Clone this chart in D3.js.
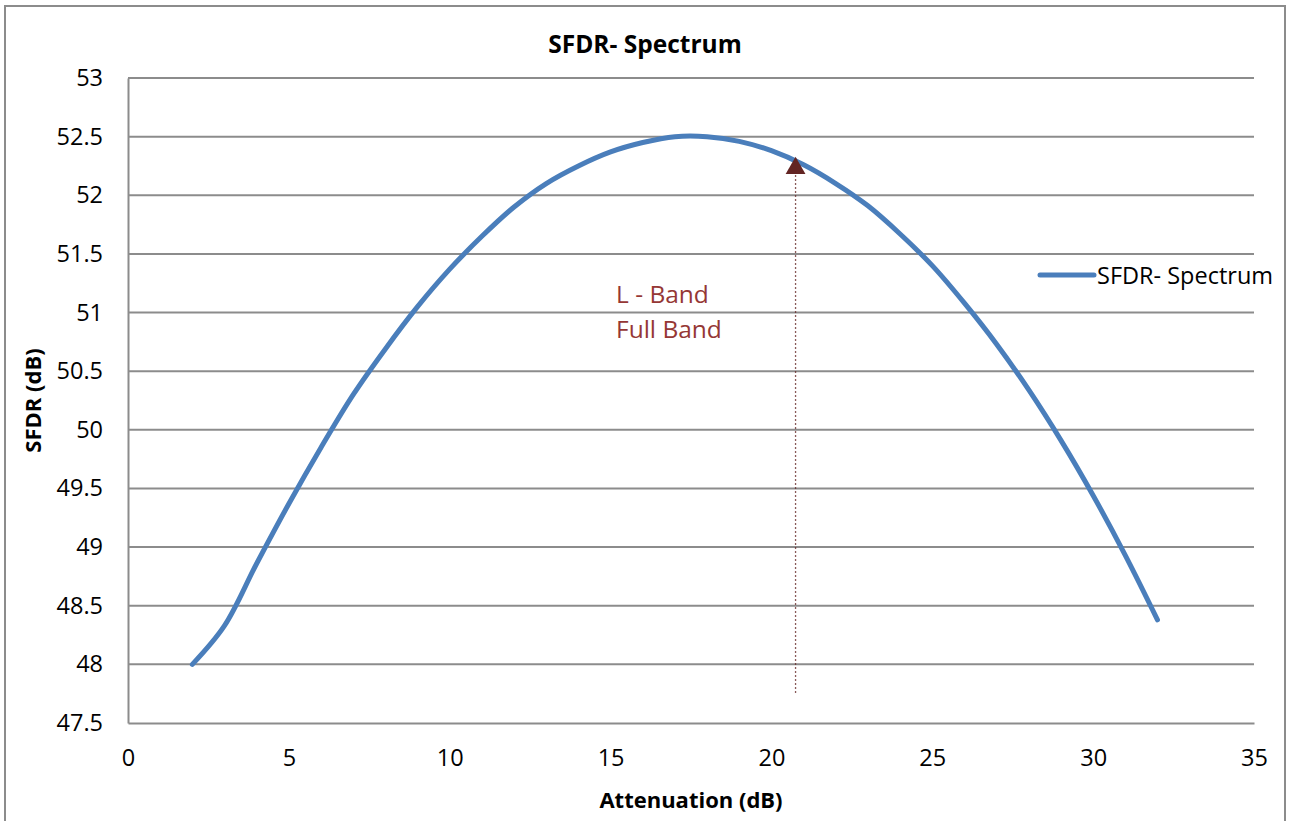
<!DOCTYPE html>
<html><head><meta charset="utf-8">
<script src="https://cdn.jsdelivr.net/npm/d3@7"></script>
<style>
html,body{margin:0;padding:0;background:#fff;}
svg{display:block;font-family:"Open Sans","Lato",sans-serif;}
</style></head>
<body>
<svg id="chart" width="1289" height="821"></svg>
<script>
// Data
const attenuation = [2,3,4,5,6,7,8,9,10,11,12,13,14,15,16,17,18,19,20,21,22,23,24,25,26,27,28,29,30,31,32];
const sfdr = [48.0,48.33,48.86,49.37,49.85,50.3,50.69,51.05,51.37,51.65,51.9,52.1,52.25,52.37,52.45,52.5,52.5,52.46,52.38,52.26,52.1,51.91,51.67,51.4,51.08,50.73,50.34,49.91,49.44,48.93,48.38];
const xTicks = [0,5,10,15,20,25,30,35];
const yTicks = [47.5,48,48.5,49,49.5,50,50.5,51,51.5,52,52.5,53];
const seriesName = "SFDR- Spectrum";
const annotationLines = ["L - Band","Full Band"];
const markerPoint = {x:20.75, y:52.29, yEnd:47.75};

const svg = d3.select("#chart");
const L=128, R=1254, T=78, B=723;
const x = d3.scaleLinear().domain([0,35]).range([L,R]);
const y = d3.scaleLinear().domain([47.5,53]).range([B,T]);

// outer border
svg.append("rect").attr("x",5).attr("y",6).attr("width",1280).attr("height",830)
  .attr("fill","none").attr("stroke","#8c8c8c").attr("stroke-width",2);

// gridlines
svg.append("g").selectAll("line").data(yTicks.filter(d=>d>47.5)).join("line")
  .attr("x1",L).attr("x2",R).attr("y1",d=>y(d)).attr("y2",d=>y(d))
  .attr("stroke","#8c8c8c").attr("stroke-width",2);

// axes
const yAxis = svg.append("g").attr("transform",`translate(${L},0)`)
  .call(d3.axisLeft(y).tickValues(yTicks).tickSize(0).tickPadding(25).tickFormat(d3.format("")));
yAxis.select(".domain").attr("stroke","#8c8c8c").attr("stroke-width",2);
yAxis.selectAll("text").attr("font-size",23.5).attr("fill","#000").attr("font-family","Open Sans");

const xAxis = svg.append("g").attr("transform",`translate(0,${B})`)
  .call(d3.axisBottom(x).tickValues(xTicks).tickSize(0).tickPadding(26).tickFormat(d3.format("")));
xAxis.select(".domain").attr("stroke","#8c8c8c").attr("stroke-width",2);
xAxis.selectAll("text").attr("font-size",23.5).attr("fill","#000").attr("font-family","Open Sans");

// dotted marker line and triangle
svg.append("line").attr("x1",x(markerPoint.x)).attr("x2",x(markerPoint.x))
  .attr("y1",y(markerPoint.y)+14).attr("y2",y(markerPoint.yEnd))
  .attr("stroke","#632523").attr("stroke-width",1.3).attr("stroke-dasharray","1.5,2.5");

// series line
const line = d3.line().x((d,i)=>x(attenuation[i])).y(d=>y(d)).curve(d3.curveCatmullRom.alpha(0.5));
svg.append("path").datum(sfdr).attr("d",line).attr("fill","none")
  .attr("stroke","#4a7ebb").attr("stroke-width",5).attr("stroke-linecap","round").attr("stroke-linejoin","round");

svg.append("path").attr("d",d3.symbol().type(d3.symbolTriangle).size(170))
  .attr("transform",`translate(${x(markerPoint.x)},${y(markerPoint.y)+7})`)
  .attr("fill","#632523");

// annotation text
svg.append("g").selectAll("text").data(annotationLines).join("text")
  .attr("x",616).attr("y",(d,i)=>303+i*35).attr("font-size",24.5).attr("fill","#953735")
  .attr("font-family","Open Sans").text(d=>d);

// title
svg.append("text").attr("x",645).attr("y",53).attr("text-anchor","middle")
  .attr("font-size",24.5).attr("font-weight","bold").attr("font-family","Open Sans").text(seriesName);

// axis titles
svg.append("text").attr("x",(L+R)/2).attr("y",808).attr("text-anchor","middle")
  .attr("font-size",22).attr("font-weight","bold").attr("font-family","Open Sans").text("Attenuation (dB)");
svg.append("text").attr("transform",`translate(41,${(T+B)/2}) rotate(-90)`).attr("text-anchor","middle")
  .attr("font-size",22).attr("font-weight","bold").attr("font-family","Open Sans").text("SFDR (dB)");

// legend
svg.append("line").attr("x1",1040).attr("x2",1094).attr("y1",275).attr("y2",275)
  .attr("stroke","#4a7ebb").attr("stroke-width",5).attr("stroke-linecap","round");
svg.append("text").attr("x",1097).attr("y",284).attr("font-size",23.5).attr("font-family","Open Sans").text(seriesName);
</script>
</body></html>
